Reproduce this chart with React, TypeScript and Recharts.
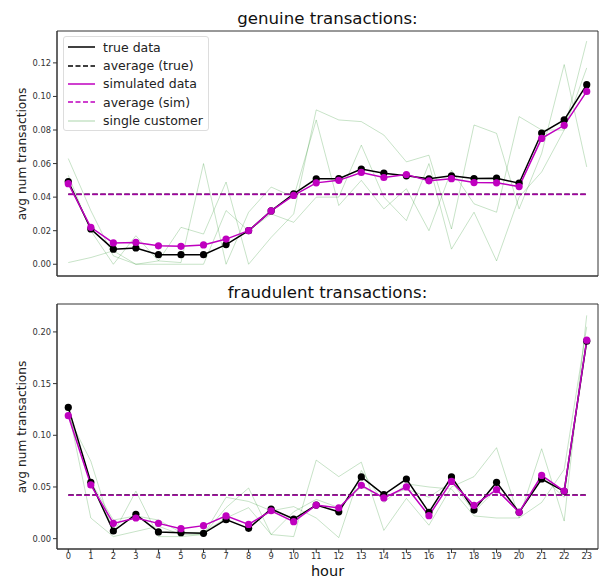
import React from "react";
import { Line, LineChart, ReferenceArea, XAxis, YAxis } from "recharts";

const HOURS = [0, 1, 2, 3, 4, 5, 6, 7, 8, 9, 10, 11, 12, 13, 14, 15, 16, 17, 18, 19, 20, 21, 22, 23];

// genuine transactions
const GENUINE_TRUE = [
  0.0493, 0.021, 0.009, 0.0097, 0.0057, 0.0057, 0.0057, 0.0117, 0.02, 0.0318, 0.042, 0.0509,
  0.051, 0.0567, 0.0543, 0.0527, 0.0509, 0.0527, 0.0511, 0.0513, 0.0483, 0.0782, 0.086, 0.107,
];
const GENUINE_SIM = [
  0.048, 0.022, 0.0127, 0.013, 0.011, 0.0107, 0.0115, 0.015, 0.02, 0.0318, 0.041, 0.0485,
  0.05, 0.0547, 0.0517, 0.0535, 0.0497, 0.051, 0.0487, 0.0485, 0.0463, 0.075, 0.0828, 0.103,
];
const GENUINE_CUST_A = [
  0.063, 0.032, 0.005, 0.0, 0.002, 0.022, 0.018, 0.049, 0.0, 0.016, 0.03, 0.092,
  0.086, 0.085, 0.077, 0.061, 0.065, 0.021, 0.083, 0.078, 0.033, 0.066, 0.119, 0.058,
];
const GENUINE_CUST_B = [
  0.053, 0.02, 0.0, 0.017, 0.002, 0.001, 0.06, 0.0, 0.031, 0.046, 0.04, 0.086,
  0.035, 0.05, 0.033, 0.045, 0.02, 0.056, 0.036, 0.031, 0.088, 0.08, 0.08, 0.133,
];
const GENUINE_CUST_C = [
  0.001, 0.004, 0.008, 0.0, 0.0, 0.0, 0.0, 0.032, 0.02, 0.03, 0.025, 0.04,
  0.04, 0.071, 0.04, 0.026, 0.06, 0.009, 0.031, 0.002, 0.04, 0.055, 0.08, 0.117,
];

// fraudulent transactions
const FRAUD_TRUE = [
  0.127, 0.0545, 0.0074, 0.0235, 0.0065, 0.0058, 0.0052, 0.0184, 0.01, 0.0287, 0.019, 0.0325,
  0.026, 0.0597, 0.0426, 0.0577, 0.0255, 0.0597, 0.0277, 0.0545, 0.0255, 0.0577, 0.0458, 0.191,
];
const FRAUD_SIM = [
  0.119, 0.052, 0.0148, 0.02, 0.0148, 0.0097, 0.0126, 0.022, 0.0138, 0.027, 0.0164, 0.0325,
  0.0297, 0.0516, 0.0394, 0.05, 0.0222, 0.0554, 0.0322, 0.0474, 0.0255, 0.0612, 0.046, 0.192,
];
const FRAUD_CUST_A = [
  0.118, 0.075, 0.005, 0.046, 0.002, 0.002, 0.004, 0.03, 0.049, 0.004, 0.002, 0.076,
  0.06, 0.074, 0.008, 0.039, 0.013, 0.05, 0.06, 0.088, 0.02, 0.087, 0.017, 0.216,
];
const FRAUD_CUST_B = [
  0.125, 0.02, 0.002, 0.007, 0.012, 0.004, 0.004, 0.04, 0.036, 0.027, 0.031, 0.02,
  0.001, 0.066, 0.035, 0.053, 0.05, 0.048, 0.022, 0.02, 0.02, 0.035, 0.067, 0.205,
];
const FRAUD_CUST_C = [
  0.122, 0.055, 0.018, 0.022, 0.018, 0.006, 0.006, 0.02, 0.03, 0.004, 0.026, 0.038,
  0.03, 0.05, 0.04, 0.048, 0.04, 0.055, 0.026, 0.048, 0.025, 0.06, 0.04, 0.195,
];

const GENUINE_TICKS = [0, 0.02, 0.04, 0.06, 0.08, 0.1, 0.12];
const FRAUD_TICKS = [0, 0.05, 0.1, 0.15, 0.2];

const FONT = "'DejaVu Sans', sans-serif";
const SPINE = "#333";
const MAGENTA = "#bf00bf";
const CUSTOMER = "rgba(0, 128, 0, 0.22)";
const X_DOMAIN: [number, number] = [-0.5, 23.5];

const mean = (xs: number[]) => xs.reduce((a, b) => a + b, 0) / xs.length;

function buildRows(real: number[], sim: number[], custs: number[][]) {
  const avgTrue = mean(real);
  const avgSim = mean(sim);
  return HOURS.map((hour, i) => ({
    hour,
    real: real[i],
    sim: sim[i],
    avgTrue,
    avgSim,
    c0: custs[0][i],
    c1: custs[1][i],
    c2: custs[2][i],
  }));
}

const genuineRows = buildRows(GENUINE_TRUE, GENUINE_SIM, [GENUINE_CUST_A, GENUINE_CUST_B, GENUINE_CUST_C]);
const fraudRows = buildRows(FRAUD_TRUE, FRAUD_SIM, [FRAUD_CUST_A, FRAUD_CUST_B, FRAUD_CUST_C]);

const tickStyle = { fontSize: 8.3, fill: "#333", fontFamily: FONT };

function Panel({
  rows,
  height,
  top,
  domain,
  ticks,
  showHourLabels,
}: {
  rows: ReturnType<typeof buildRows>;
  height: number;
  top: number;
  domain: [number, number];
  ticks: number[];
  showHourLabels: boolean;
}) {
  const xHeight = showHourLabels ? 30 : 14;
  return (
    <LineChart
      width={601}
      height={height}
      data={rows}
      margin={{ top, right: 3, bottom: 0, left: 0 }}
    >
      <XAxis
        dataKey="hour"
        type="number"
        domain={X_DOMAIN}
        ticks={HOURS}
        interval={0}
        height={xHeight}
        tickSize={4}
        tickMargin={0}
        tick={showHourLabels ? tickStyle : false}
        stroke={SPINE}
        tickLine={{ stroke: SPINE }}
        axisLine={{ stroke: SPINE }}
      />
      <YAxis
        type="number"
        domain={domain}
        ticks={ticks}
        width={57}
        tickSize={4}
        tick={tickStyle}
        tickFormatter={(v: number) => v.toFixed(2)}
        tickLine={{ stroke: SPINE }}
        axisLine={{ stroke: SPINE }}
        allowDataOverflow
      />
      {/* matplotlib-style box around the axes */}
      <ReferenceArea
        x1={X_DOMAIN[0]}
        x2={X_DOMAIN[1]}
        y1={domain[0]}
        y2={domain[1]}
        fill="none"
        stroke={SPINE}
        strokeWidth={1}
        ifOverflow="visible"
      />
      {["c0", "c1", "c2"].map((k) => (
        <Line
          key={k}
          dataKey={k}
          type="linear"
          stroke={CUSTOMER}
          strokeWidth={1}
          dot={false}
          activeDot={false}
          isAnimationActive={false}
        />
      ))}
      <Line
        dataKey="real"
        type="linear"
        stroke="#000"
        strokeWidth={1.5}
        dot={{ r: 3.6, fill: "#000", stroke: "#000", strokeWidth: 0 }}
        activeDot={false}
        isAnimationActive={false}
      />
      <Line
        dataKey="avgTrue"
        type="linear"
        stroke="#000"
        strokeWidth={1.5}
        strokeDasharray="5.5 2.5"
        dot={false}
        activeDot={false}
        isAnimationActive={false}
      />
      <Line
        dataKey="sim"
        type="linear"
        stroke={MAGENTA}
        strokeWidth={1.5}
        dot={{ r: 3.6, fill: MAGENTA, stroke: MAGENTA, strokeWidth: 0 }}
        activeDot={false}
        isAnimationActive={false}
      />
      <Line
        dataKey="avgSim"
        type="linear"
        stroke={MAGENTA}
        strokeOpacity={0.85}
        strokeWidth={1.6}
        strokeDasharray="5.5 2.5"
        dot={false}
        activeDot={false}
        isAnimationActive={false}
      />
    </LineChart>
  );
}

const LEGEND = [
  { label: "true data", color: "#000", dash: undefined as string | undefined },
  { label: "average (true)", color: "#000", dash: "5 2.5" },
  { label: "simulated data", color: MAGENTA, dash: undefined },
  { label: "average (sim)", color: MAGENTA, dash: "5 2.5" },
  { label: "single customer", color: CUSTOMER, dash: undefined },
];

function LegendBox() {
  return (
    <div
      style={{
        position: "absolute",
        left: 63,
        top: 36,
        width: 146,
        height: 95,
        boxSizing: "border-box",
        border: "1px solid #ddd",
        borderRadius: 3,
        background: "rgba(255,255,255,0.85)",
        padding: "1px 0 0 4px",
      }}
    >
      {LEGEND.map((item) => (
        <div
          key={item.label}
          style={{ display: "flex", alignItems: "center", height: 18.4, fontSize: 12.5, color: "#222" }}
        >
          <svg width={27} height={6} style={{ marginRight: 8, flex: "none" }}>
            <line
              x1={0}
              y1={3}
              x2={27}
              y2={3}
              stroke={item.color}
              strokeWidth={1.5}
              strokeDasharray={item.dash}
            />
          </svg>
          <span style={{ whiteSpace: "nowrap" }}>{item.label}</span>
        </div>
      ))}
    </div>
  );
}

const titleStyle: React.CSSProperties = {
  position: "absolute",
  left: 57,
  width: 541,
  textAlign: "center",
  fontSize: 16.6,
  color: "#111",
  lineHeight: "20px",
};

const yLabelStyle: React.CSSProperties = {
  position: "absolute",
  left: 22,
  fontSize: 12.2,
  color: "#222",
  whiteSpace: "nowrap",
  transform: "translate(-50%, -50%) rotate(-90deg)",
};

export default function App() {
  return (
    <div
      style={{
        position: "absolute",
        left: 0,
        top: 0,
        width: 601,
        height: 579,
        background: "#fff",
        fontFamily: FONT,
        overflow: "hidden",
      }}
    >
      <div style={{ position: "absolute", left: 0, top: 0 }}>
        <Panel rows={genuineRows} height={290} top={31} domain={[-0.007, 0.139]} ticks={GENUINE_TICKS} showHourLabels={false} />
      </div>
      <div style={{ position: "absolute", left: 0, top: 290 }}>
        <Panel rows={fraudRows} height={289} top={14} domain={[-0.01, 0.227]} ticks={FRAUD_TICKS} showHourLabels />
      </div>
      <div style={{ ...titleStyle, top: 9 }}>genuine transactions:</div>
      <div style={{ ...titleStyle, top: 283 }}>fraudulent transactions:</div>
      <div style={{ ...yLabelStyle, top: 153.5 }}>avg num transactions</div>
      <div style={{ ...yLabelStyle, top: 427 }}>avg num transactions</div>
      <div
        style={{
          position: "absolute",
          left: 57,
          width: 541,
          top: 564,
          textAlign: "center",
          fontSize: 14.5,
          color: "#111",
          lineHeight: "14px",
        }}
      >
        hour
      </div>
      <LegendBox />
    </div>
  );
}
